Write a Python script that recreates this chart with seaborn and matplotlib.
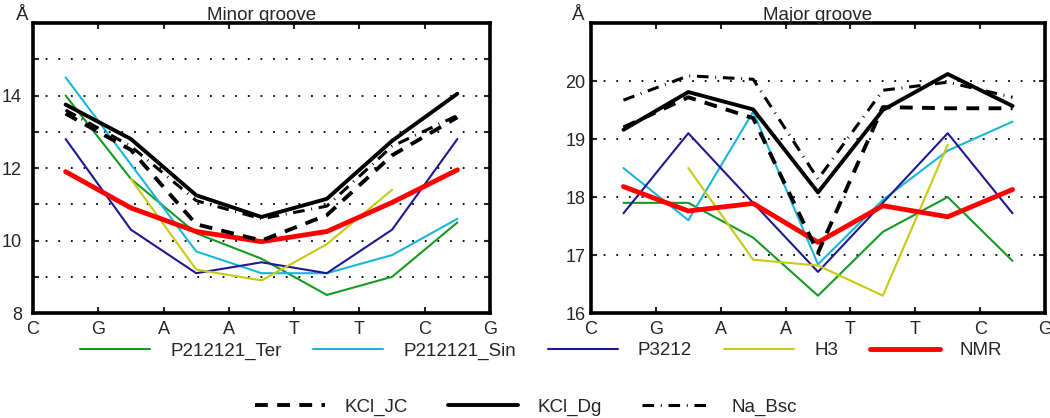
import numpy as np
import pandas as pd
import seaborn as sns
import matplotlib.pyplot as plt
from matplotlib.lines import Line2D

sns.set_style("white")
plt.rcParams['font.family'] = ['Liberation Sans', 'DejaVu Sans']

# base steps (values sit between the letters)
bases = ['C', 'G', 'A', 'A', 'T', 'T', 'C', 'G']
steps = [0.5, 1.5, 2.5, 3.5, 4.5, 5.5, 6.5]

series = ['P212121_Ter', 'P212121_Sin', 'P3212', 'H3', 'NMR', 'KCl_JC', 'KCl_Dg', 'Na_Bsc']

# minor groove width (A)
minor_ter = [14.0, 11.7, 10.2, 9.5, 8.5, 9.0, 10.5]
minor_sin = [14.5, 12.1, 9.7, 9.1, 9.1, 9.6, 10.6]
minor_p3212 = [12.8, 10.3, 9.1, 9.4, 9.1, 10.3, 12.8]
minor_h3 = [np.nan, 11.7, 9.2, 8.9, 9.9, 11.4, np.nan]
minor_nmr = [11.9, 10.9, 10.25, 9.97, 10.25, 11.05, 11.95]
minor_kcl_jc = [13.5, 12.5, 10.45, 10.0, 10.7, 12.35, 13.4]
minor_kcl_dg = [13.75, 12.8, 11.25, 10.65, 11.15, 12.75, 14.05]
minor_na_bsc = [13.6, 12.6, 11.1, 10.6, 10.95, 12.6, 13.45]

# major groove width (A)
major_ter = [17.9, 17.9, 17.3, 16.3, 17.4, 18.0, 16.9]
major_sin = [18.5, 17.6, 19.47, 16.84, 17.95, 18.8, 19.3]
major_p3212 = [17.72, 19.1, 17.9, 16.71, 17.9, 19.1, 17.72]
major_h3 = [np.nan, 18.5, 16.92, 16.82, 16.3, 18.9, np.nan]
major_nmr = [18.18, 17.76, 17.89, 17.22, 17.85, 17.66, 18.13]
major_kcl_jc = [19.2, 19.72, 19.36, 17.04, 19.55, 19.53, 19.53]
major_kcl_dg = [19.16, 19.81, 19.51, 18.08, 19.5, 20.12, 19.57]
major_na_bsc = [19.67, 20.09, 20.03, 18.31, 19.84, 19.98, 19.72]

minor = [minor_ter, minor_sin, minor_p3212, minor_h3, minor_nmr,
         minor_kcl_jc, minor_kcl_dg, minor_na_bsc]
major = [major_ter, major_sin, major_p3212, major_h3, major_nmr,
         major_kcl_jc, major_kcl_dg, major_na_bsc]

# line styles per series
colors = ['#159a24', '#1bb6d6', '#1e1a8e', '#c9c914', '#ff0000', 'black', 'black', 'black']
widths = [1.5, 1.5, 1.5, 1.5, 3.5, 2.8, 2.8, 2.2]
dashes = [None, None, None, None, None, (3.3, 2.4), None, (3.8, 2.2, 0.3, 2.2)]

fig = plt.figure(figsize=(10.5, 4.18), dpi=100)
ax1 = fig.add_axes([0.0314, 0.251, 0.4353, 0.694])
ax2 = fig.add_axes([0.5629, 0.251, 0.4323, 0.694])


def draw(ax, data, ylo, yhi, labels, title, ypad):
    for name, vals, c, lw, ds in zip(series, data, colors, widths, dashes):
        df = pd.DataFrame({'x': steps, 'y': vals}).dropna()
        sns.lineplot(data=df, x='x', y='y', ax=ax, color=c, linewidth=lw)
        line = ax.lines[-1]
        if ds is not None:
            line.set_dashes(ds)
    ax.set_xlim(0, 7)
    ax.set_ylim(ylo, yhi)
    ax.set_xticks(range(8))
    ax.set_xticklabels(bases, fontsize=13)
    ax.set_yticks(range(ylo, yhi + 1))
    ax.set_yticklabels(labels, fontsize=13)
    ax.set_xlabel('')
    ax.set_ylabel('')
    for y in range(ylo + 1, yhi):
        ax.axhline(y, color='black', lw=1.3, ls=(0, (1, 6)), zorder=0)
    for s in ax.spines.values():
        s.set_linewidth(2.6)
        s.set_color('black')
    ax.tick_params(direction='in', length=4, width=1.5, top=True, right=True,
                   bottom=True, left=True, pad=6)
    ax.tick_params(axis='y', pad=ypad)
    ax.set_title(title, fontsize=13.5, pad=2)


draw(ax1, minor, 8, 16, ['8', '', '10', '', '12', '', '14', '', ''], 'Minor groove', 8)
draw(ax2, major, 16, 21, ['16', '17', '18', '19', '20', ''], 'Major groove', 4)

fig.text(22 / 1050, 1 - 15 / 418, 'Å', fontsize=13.5, ha='center', va='center')
fig.text(578 / 1050, 1 - 16 / 418, 'Å', fontsize=13.5, ha='center', va='center')

handles = []
for name, c, lw, ds in zip(series, colors, widths, dashes):
    h = Line2D([], [], color=c, linewidth=lw)
    if ds is not None:
        h.set_dashes(ds)
    handles.append(h)

fig.legend(handles[:5], series[:5], loc='center left',
           bbox_to_anchor=(80 / 1050, 1 - 351 / 418), ncol=5, frameon=False,
           fontsize=13.5, handlelength=3.73, handletextpad=1.07, columnspacing=1.7,
           borderaxespad=0, borderpad=0)
fig.legend(handles[5:], series[5:], loc='center left',
           bbox_to_anchor=(255 / 1050, 1 - 407 / 418), ncol=3, frameon=False,
           fontsize=13.5, handlelength=3.73, handletextpad=1.07, columnspacing=2.1,
           borderaxespad=0, borderpad=0)

fig.savefig('out.png', dpi=100)
